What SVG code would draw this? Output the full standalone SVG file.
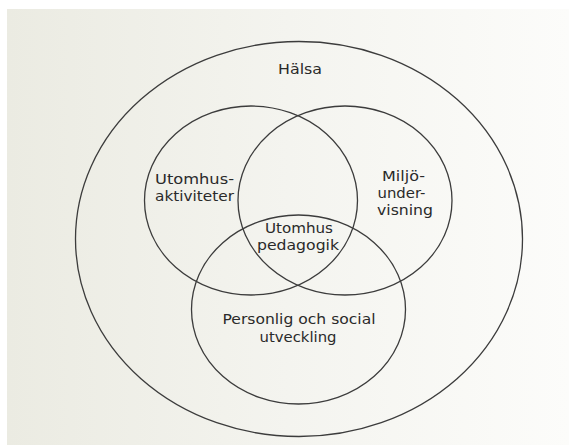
<svg xmlns="http://www.w3.org/2000/svg" width="569" height="445" viewBox="0 0 569 445">
<defs>
<linearGradient id="paper" x1="0" y1="0" x2="1" y2="0">
<stop offset="0" stop-color="#ebebe2"/>
<stop offset="0.5" stop-color="#f4f4ef"/>
<stop offset="1" stop-color="#fcfcfa"/>
</linearGradient>
</defs>
<style>
.ring{fill:none;stroke:#3c3c3c;stroke-width:1.3}
.lbl{font-family:"DejaVu Sans","Liberation Sans",sans-serif;font-size:14px;fill:#2a2a2a;text-anchor:middle}
</style>
<rect x="0" y="0" width="569" height="445" fill="#ffffff"/>
<rect x="7" y="9" width="562" height="436" fill="url(#paper)"/>
<g id="halsa">
<ellipse class="ring" cx="299" cy="239" rx="223.5" ry="197.5"/>
<text class="lbl" x="300" y="74" textLength="44" lengthAdjust="spacingAndGlyphs">Hälsa</text>
</g>
<g id="utomhusaktiviteter">
<ellipse class="ring" cx="251" cy="200.5" rx="106.5" ry="94.5"/>
<text class="lbl" x="194.5" y="183.5" textLength="79" lengthAdjust="spacingAndGlyphs">Utomhus-</text>
<text class="lbl" x="194.5" y="200.5" textLength="79" lengthAdjust="spacingAndGlyphs">aktiviteter</text>
</g>
<g id="miljoundervisning">
<ellipse class="ring" cx="345" cy="200.5" rx="107" ry="94.5"/>
<text class="lbl" x="403.5" y="181" textLength="43" lengthAdjust="spacingAndGlyphs">Miljö-</text>
<text class="lbl" x="401.5" y="198" textLength="48" lengthAdjust="spacingAndGlyphs">under-</text>
<text class="lbl" x="405" y="215" textLength="56" lengthAdjust="spacingAndGlyphs">visning</text>
</g>
<g id="personlig">
<ellipse class="ring" cx="298.5" cy="309.5" rx="107" ry="94.5"/>
<text class="lbl" x="299" y="324" textLength="153" lengthAdjust="spacingAndGlyphs">Personlig och social</text>
<text class="lbl" x="298" y="341.5" textLength="77" lengthAdjust="spacingAndGlyphs">utveckling</text>
</g>
<g id="utomhuspedagogik">
<text class="lbl" x="299" y="233" textLength="68" lengthAdjust="spacingAndGlyphs">Utomhus</text>
<text class="lbl" x="298" y="249.5" textLength="82" lengthAdjust="spacingAndGlyphs">pedagogik</text>
</g>
<g id="connectors"/>
</svg>
